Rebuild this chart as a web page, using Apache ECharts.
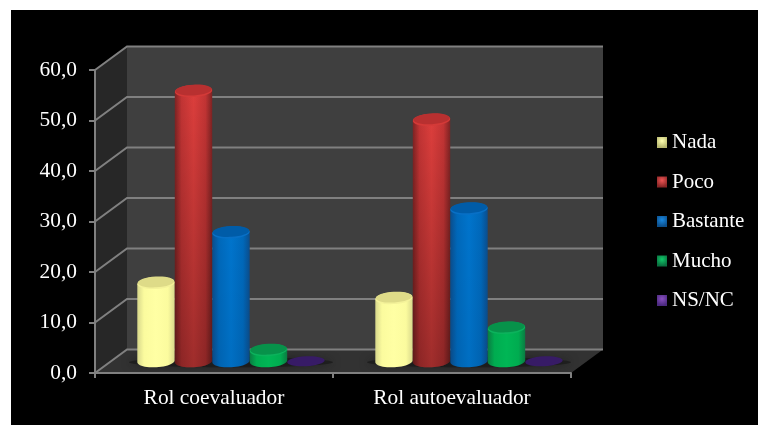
<!DOCTYPE html>
<html>
<head>
<meta charset="utf-8">
<style>html,body{margin:0;padding:0;background:#fff}#chart{width:758px;height:425px}</style>
<script src="https://cdn.jsdelivr.net/npm/echarts@6/dist/echarts.min.js"></script>
</head>
<body>
<div id="chart"></div>
<script>
const categories = ['Rol coevaluador', 'Rol autoevaluador'];
const nada = [15.5, 12.5];
const poco = [53.5, 47.8];
const bastante = [25.5, 30.2];
const mucho = [2.2, 6.6];
const nsnc = [0, 0];
const valueTicks = [0, 10, 20, 30, 40, 50, 60];

const FONT = '"Liberation Serif", "Times New Roman", serif';
const GRID_LINE = '#808080';
const DEPTH_X = 32, DEPTH_Y = -23.5;
const TILT = 0.055;

// Appearance of each cylinder: side edge, side shoulder, side centre, cap, cap rim, darkening towards the base
const seriesDefs = [
  { name: 'Nada', values: nada, edge: '#d8d88c', shoulder: '#fbfb9e', mid: '#ffffa4', cap: '#dedb88', rim: '#f4f29a', shade: 0, swatch: ['#ffffb0', '#b8b870'] },
  { name: 'Poco', values: poco, edge: '#7e2323', shoulder: '#c23434', mid: '#dc3e3c', cap: '#b83030', rim: '#d43a38', shade: 0.28, swatch: ['#ee5555', '#8a2626'] },
  { name: 'Bastante', values: bastante, edge: '#0b4d8c', shoulder: '#0068ba', mid: '#0074cc', cap: '#005ca8', rim: '#0870c6', shade: 0.05, swatch: ['#1a88e0', '#0c4f8c'] },
  { name: 'Mucho', values: mucho, edge: '#0a7c42', shoulder: '#00ac50', mid: '#00b655', cap: '#07924a', rim: '#0cb25c', shade: 0, swatch: ['#10c868', '#0a7040'] },
  { name: 'NS/NC', values: nsnc, edge: '#331a5e', shoulder: '#3b1c6c', mid: '#3b1c6c', cap: '#371b66', rim: '#371b66', shade: 0, swatch: ['#8a50c0', '#4c2a80'] }
];

const chart = echarts.init(document.getElementById('chart'));

function pointOn(cx, cy, rx, ry, t) {
  const px = rx * Math.cos(t), py = ry * Math.sin(t);
  return [cx + px * Math.cos(TILT) + py * Math.sin(TILT), cy - px * Math.sin(TILT) + py * Math.cos(TILT)];
}

function capEllipse(cx, cy, rx, ry, fill, z2) {
  return {
    type: 'ellipse', z2: z2,
    shape: { cx: 0, cy: 0, rx: rx, ry: ry },
    x: cx, y: cy, rotation: TILT,
    style: { fill: fill }
  };
}

// Back wall, side wall, floor and the gridlines that run around them
function renderFrame(params, api) {
  if (params.dataIndex !== 0) return null;
  const left = api.coord([0, 0])[0] - api.size([1, 0])[0] / 2;
  const right = left + api.size([1, 0])[0] * categories.length;
  const floorY = api.coord([0, 0])[1];
  const topY = api.coord([0, valueTicks[valueTicks.length - 1]])[1];
  const poly = (points, fill) => ({ type: 'polygon', shape: { points: points }, style: { fill: fill } });
  const children = [
    poly([[left + DEPTH_X, topY + DEPTH_Y], [right + DEPTH_X, topY + DEPTH_Y], [right + DEPTH_X, floorY + DEPTH_Y], [left + DEPTH_X, floorY + DEPTH_Y]], '#3f3f3f'),
    poly([[left, topY], [left + DEPTH_X, topY + DEPTH_Y], [left + DEPTH_X, floorY + DEPTH_Y], [left, floorY]], '#272727'),
    poly([[left, floorY], [left + DEPTH_X, floorY + DEPTH_Y], [right + DEPTH_X, floorY + DEPTH_Y], [right, floorY]], '#323232')
  ];
  valueTicks.forEach(v => {
    const y = api.coord([0, v])[1];
    children.push({
      type: 'polyline',
      shape: { points: [[left, y], [left + DEPTH_X, y + DEPTH_Y], [right + DEPTH_X, y + DEPTH_Y]] },
      style: { stroke: GRID_LINE, lineWidth: 2, fill: null }
    });
  });
  categories.forEach((c, i) => {
    const p = api.coord([i, 0]);
    children.push({
      type: 'ellipse',
      shape: { cx: p[0] + DEPTH_X / 2 + 1, cy: p[1] + DEPTH_Y / 2 + 1, rx: 102, ry: 5 },
      style: { fill: 'rgba(24,24,24,0.7)', shadowBlur: 9, shadowColor: 'rgba(20,20,20,0.8)' }
    });
  });
  return { type: 'group', children: children };
}

// One cylinder: side surface, base-wards shading, lit rim and top cap
function makeRenderBar(seriesIndex, def) {
  return function (params, api) {
    const catIndex = api.value(0);
    const base = api.coord([catIndex, 0]);
    const top = api.coord([catIndex, api.value(1)]);
    const band = api.size([1, 0])[0];
    const w = band * 0.1575;
    const rx = w / 2, ry = 6;
    const cx = base[0] + DEPTH_X / 2 + 1 + (seriesIndex - 2) * w;
    const baseY = base[1] + DEPTH_Y / 2;
    const topY = top[1] + DEPTH_Y / 2;
    if (api.value(1) === 0) {
      return { type: 'group', children: [capEllipse(cx, baseY, rx, ry - 1, def.cap, 5)] };
    }
    const pts = [pointOn(cx, topY, rx, ry, Math.PI), pointOn(cx, topY, rx, ry, 0)];
    for (let i = 0; i <= 24; i++) pts.push(pointOn(cx, baseY, rx, ry, Math.PI * i / 24));
    const side = new echarts.graphic.LinearGradient(0, 0, 1, 0, [
      { offset: 0, color: def.edge }, { offset: 0.18, color: def.shoulder }, { offset: 0.5, color: def.mid },
      { offset: 0.82, color: def.shoulder }, { offset: 1, color: def.edge }
    ]);
    const shade = new echarts.graphic.LinearGradient(0, 0, 0, 1, [
      { offset: 0, color: 'rgba(0,0,0,0)' }, { offset: 1, color: 'rgba(0,0,0,' + def.shade + ')' }
    ]);
    return {
      type: 'group',
      children: [
        { type: 'polygon', z2: 1, shape: { points: pts }, style: { fill: side } },
        { type: 'polygon', z2: 2, shape: { points: pts }, style: { fill: shade } },
        capEllipse(cx, topY, rx, ry, def.rim, 3),
        capEllipse(cx, topY - 1, rx - 0.5, ry - 0.6, def.cap, 4)
      ]
    };
  };
}

const barSeries = seriesDefs.map((def, i) => ({
  name: def.name,
  type: 'custom',
  z: 4 + i,
  silent: true,
  clip: false,
  itemStyle: { color: def.mid },
  encode: { x: 0, y: 1 },
  data: categories.map((c, k) => [k, def.values[k]]),
  renderItem: makeRenderBar(i, def)
}));

chart.setOption({
  animation: false,
  backgroundColor: '#ffffff',
  graphic: [{ type: 'rect', z: -10, silent: true, shape: { x: 11, y: 10, width: 747, height: 415 }, style: { fill: '#000000' } }],
  grid: { left: 95, right: 187, top: 70, bottom: 52 },
  legend: {
    orient: 'vertical',
    left: 657,
    top: 132,
    padding: 0,
    itemGap: 18.5,
    itemWidth: 10,
    itemHeight: 11,
    textStyle: { color: '#ffffff', fontFamily: FONT, fontSize: 21, lineHeight: 21 },
    selectedMode: false,
    data: seriesDefs.map(d => ({
      name: d.name,
      icon: 'rect',
      itemStyle: {
        color: new echarts.graphic.RadialGradient(0.5, 0.35, 0.65, [
          { offset: 0, color: d.swatch[0] }, { offset: 1, color: d.swatch[1] }
        ])
      }
    }))
  },
  xAxis: {
    type: 'category',
    data: categories,
    z: 3,
    axisLine: { lineStyle: { color: GRID_LINE, width: 2 } },
    axisTick: { show: true, length: 5, lineStyle: { color: GRID_LINE, width: 2 } },
    axisLabel: { color: '#ffffff', fontFamily: FONT, fontSize: 21.4, margin: 15 }
  },
  yAxis: {
    type: 'value',
    min: 0,
    max: 60,
    interval: 10,
    z: 3,
    splitLine: { show: false },
    axisLine: { show: true, lineStyle: { color: GRID_LINE, width: 2 } },
    axisTick: { show: true, length: 6, lineStyle: { color: GRID_LINE, width: 2 } },
    axisLabel: {
      color: '#ffffff', fontFamily: FONT, fontSize: 21.4, margin: 18, padding: [2, 0, 0, 0],
      formatter: v => v.toFixed(1).replace('.', ',')
    }
  },
  series: [{
    type: 'custom',
    z: 1,
    silent: true,
    clip: false,
    encode: { x: 0, y: 1 },
    data: [[0, 0]],
    renderItem: renderFrame
  }].concat(barSeries)
});
</script>
</body>
</html>
